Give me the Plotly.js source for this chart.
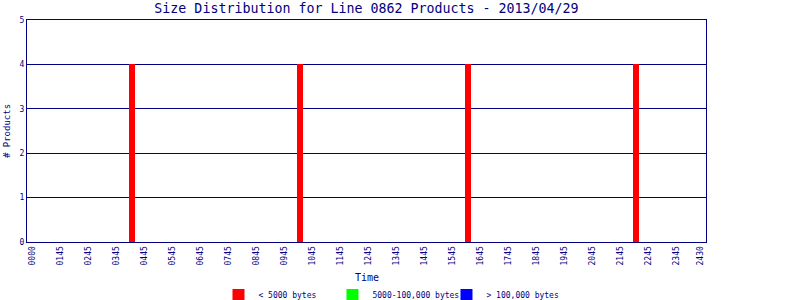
<!DOCTYPE html>
<html>
<head>
<meta charset="utf-8">
<script src="https://cdn.plot.ly/plotly-3.0.1.min.js"></script>
<style>html,body{margin:0;padding:0;background:#fff;}#chart{width:800px;height:300px;}</style>
</head>
<body>
<div id="chart"></div>
<script>
// Data
const barTimes = [4, 10, 16, 22];            // hour of day
const smallCounts = [4, 4, 4, 4];            // < 5000 bytes
const mediumCounts = [0, 0, 0, 0];           // 5000-100,000 bytes
const largeCounts = [0, 0, 0, 0];            // > 100,000 bytes
const seriesNames = ['< 5000 bytes', '5000-100,000 bytes', '> 100,000 bytes'];
const tickLabels = ['0000','0145','0245','0345','0445','0545','0645','0745','0845','0945',
  '1045','1145','1245','1345','1445','1545','1645','1745','1845','1945','2045','2145',
  '2245','2345','2430'];
const yTicks = [0, 1, 2, 3, 4, 5];
const xTitle = 'Time';

const NAVY = '#000080';
const FONT = 'DejaVu Sans Mono, monospace';

// tick positions follow the original's label placement
const tickVals = tickLabels.map((t, i) => i < tickLabels.length - 1 ? i + 0.46 : 24.29);

const colors = ['#ff0000', '#00ff00', '#0000ff'];
const seriesVals = [smallCounts, mediumCounts, largeCounts];
const traces = seriesVals.map((vals, k) => ({
  type: 'bar',
  x: barTimes,
  y: vals,
  name: seriesNames[k],
  width: 0.215,
  marker: {color: colors[k], line: {width: 0}},
  hoverinfo: 'x+y+name'
}));

const layout = {
  width: 800, height: 300,
  margin: {l: 27, r: 94, t: 20, b: 58, pad: 0, autoexpand: false},
  paper_bgcolor: '#ffffff', plot_bgcolor: '#ffffff',
  barmode: 'stack',
  bargap: 0,
  font: {family: FONT, color: NAVY, size: 8},
  title: {
    text: 'Size Distribution for Line 0862 Products - 2013/04/29',
    font: {family: FONT, size: 13.3, color: NAVY},
    x: 0.5, xref: 'paper', xanchor: 'center',
    y: 0.973, yref: 'container', yanchor: 'middle'
  },
  xaxis: {
    range: [0.25, 24.5],
    tickmode: 'array', tickvals: tickVals, ticktext: tickLabels,
    tickangle: -90,
    tickfont: {family: FONT, size: 8, color: NAVY},
    ticks: '', showgrid: false, zeroline: false,
    showline: true, linecolor: NAVY, linewidth: 1, mirror: true,
    automargin: false
  },
  yaxis: {
    range: [0, 5],
    tickmode: 'array', tickvals: yTicks, ticktext: yTicks.map(String),
    tickfont: {family: FONT, size: 8, color: NAVY},
    ticks: '', showgrid: true, gridcolor: NAVY, gridwidth: 1, zeroline: false,
    showline: true, linecolor: NAVY, linewidth: 1, mirror: true,
    automargin: false,
    title: {text: '# Products', font: {family: FONT, size: 9, color: NAVY}, standoff: 7}
  },
  annotations: [{
    text: xTitle, showarrow: false,
    xref: 'paper', x: 0.5, xanchor: 'center',
    yref: 'paper', y: -0.162, yanchor: 'middle',
    font: {family: FONT, size: 10, color: NAVY}
  }],
  showlegend: true,
  legend: {
    orientation: 'h',
    x: 0.282, xref: 'paper', xanchor: 'left',
    y: 0.0167, yref: 'container', yanchor: 'middle',
    entrywidth: 69, entrywidthmode: 'pixels',
    itemwidth: 30,
    font: {family: FONT, size: 8, color: NAVY},
    bgcolor: 'rgba(0,0,0,0)', borderwidth: 0,
    traceorder: 'normal'
  }
};

Plotly.newPlot('chart', traces, layout, {displayModeBar: false, staticPlot: true});
</script>
</body>
</html>
